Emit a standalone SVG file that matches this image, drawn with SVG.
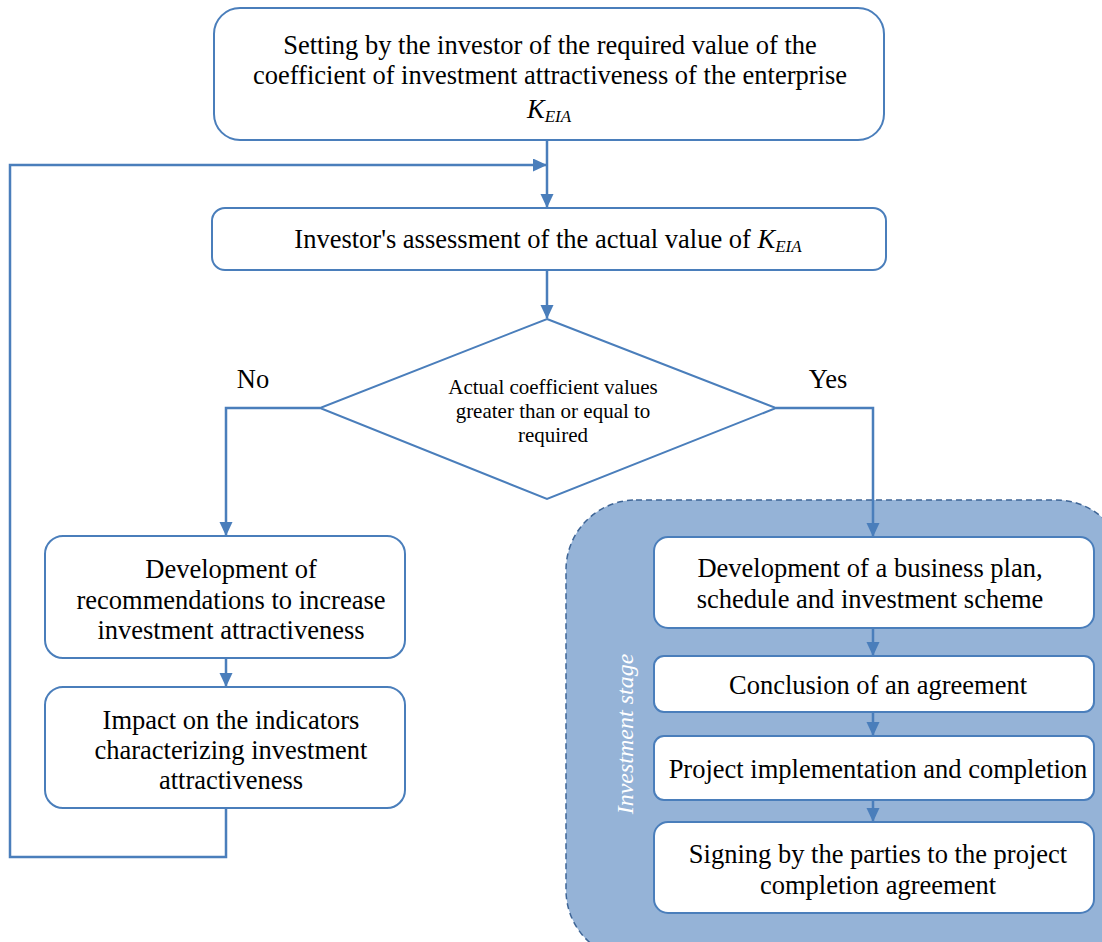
<svg xmlns="http://www.w3.org/2000/svg" width="1102" height="942" viewBox="0 0 1102 942">
<style>
.box{fill:#fff;stroke:#4a7ebb;stroke-width:2}
.con{fill:none;stroke:#4a7ebb;stroke-width:2.5}
</style>
<defs>
<marker id="ah" markerWidth="14" markerHeight="14" refX="13" refY="6.5" orient="auto" markerUnits="userSpaceOnUse">
<path d="M0,0 L14,6.5 L0,13 z" fill="#4a7ebb"/>
</marker>
</defs>
<rect width="1102" height="942" fill="#fff"/>
<g id="stage">
<rect x="566" y="500" width="560" height="460" rx="70" fill="#95b3d7" stroke="#3e6596" stroke-width="1.5" stroke-dasharray="6,4"/>
<text transform="translate(633,734) rotate(-90)" font-family="Liberation Serif" style="font-family:'Liberation Serif','Times New Roman',serif" font-size="24" font-style="italic" fill="#fff" text-anchor="middle">Investment stage</text>
</g>
<g id="connectors">
<path class="con" d="M547,140 V207" marker-end="url(#ah)"/>
<path class="con" d="M226,808 V857 H10 V165 H546" marker-end="url(#ah)"/>
<path class="con" d="M547,270 V318" marker-end="url(#ah)"/>
<path class="con" d="M320,408 H226 V535" marker-end="url(#ah)"/>
<path class="con" d="M776,408 H873 V536" marker-end="url(#ah)"/>
<path class="con" d="M226,658 V686" marker-end="url(#ah)"/>
<path class="con" d="M873,628 V655" marker-end="url(#ah)"/>
<path class="con" d="M873,712 V735" marker-end="url(#ah)"/>
<path class="con" d="M873,800 V821" marker-end="url(#ah)"/>
</g>
<g id="n1"><rect class="box" x="214" y="8" width="670" height="132" rx="26"/>
<text x="550" y="54" font-family="Liberation Serif" style="font-family:'Liberation Serif','Times New Roman',serif" font-size="26.5" text-anchor="middle">Setting by the investor of the required value of the</text>
<text x="550" y="84" font-family="Liberation Serif" style="font-family:'Liberation Serif','Times New Roman',serif" font-size="26.5" text-anchor="middle">coefficient of investment attractiveness of the enterprise</text>
<text x="549" y="118" font-family="Liberation Serif" style="font-family:'Liberation Serif','Times New Roman',serif" font-size="26.5" font-style="italic" text-anchor="middle">K<tspan font-size="17" dy="4">EIA</tspan></text></g>
<g id="n2"><rect class="box" x="212" y="208" width="674" height="62" rx="13"/>
<text x="548" y="248" font-family="Liberation Serif" style="font-family:'Liberation Serif','Times New Roman',serif" font-size="26.5" text-anchor="middle">Investor's assessment of the actual value of <tspan font-style="italic">K</tspan><tspan font-style="italic" font-size="17" dy="4">EIA</tspan></text></g>
<g id="n3"><polygon class="box" points="547,319 776,408 547,499 320,408"/>
<text x="553" y="394" font-family="Liberation Serif" style="font-family:'Liberation Serif','Times New Roman',serif" font-size="21" text-anchor="middle">Actual coefficient values</text>
<text x="553" y="418" font-family="Liberation Serif" style="font-family:'Liberation Serif','Times New Roman',serif" font-size="21" text-anchor="middle">greater than or equal to</text>
<text x="553" y="442" font-family="Liberation Serif" style="font-family:'Liberation Serif','Times New Roman',serif" font-size="21" text-anchor="middle">required</text></g>
<text x="253" y="388" font-family="Liberation Serif" style="font-family:'Liberation Serif','Times New Roman',serif" font-size="26.5" text-anchor="middle">No</text>
<text x="828" y="388" font-family="Liberation Serif" style="font-family:'Liberation Serif','Times New Roman',serif" font-size="26.5" text-anchor="middle">Yes</text>
<g id="n4"><rect class="box" x="45" y="536" width="360" height="122" rx="18"/>
<text x="231" y="578" font-family="Liberation Serif" style="font-family:'Liberation Serif','Times New Roman',serif" font-size="26.5" text-anchor="middle">Development of</text>
<text x="231" y="609" font-family="Liberation Serif" style="font-family:'Liberation Serif','Times New Roman',serif" font-size="26.5" text-anchor="middle">recommendations to increase</text>
<text x="231" y="639" font-family="Liberation Serif" style="font-family:'Liberation Serif','Times New Roman',serif" font-size="26.5" text-anchor="middle">investment attractiveness</text></g>
<g id="n5"><rect class="box" x="45" y="687" width="360" height="121" rx="18"/>
<text x="231" y="729" font-family="Liberation Serif" style="font-family:'Liberation Serif','Times New Roman',serif" font-size="26.5" text-anchor="middle">Impact on the indicators</text>
<text x="231" y="759" font-family="Liberation Serif" style="font-family:'Liberation Serif','Times New Roman',serif" font-size="26.5" text-anchor="middle">characterizing investment</text>
<text x="231" y="789" font-family="Liberation Serif" style="font-family:'Liberation Serif','Times New Roman',serif" font-size="26.5" text-anchor="middle">attractiveness</text></g>
<g id="n6"><rect class="box" x="654" y="537" width="440" height="91" rx="14"/>
<text x="870" y="577" font-family="Liberation Serif" style="font-family:'Liberation Serif','Times New Roman',serif" font-size="26.5" text-anchor="middle">Development of a business plan,</text>
<text x="870" y="608" font-family="Liberation Serif" style="font-family:'Liberation Serif','Times New Roman',serif" font-size="26.5" text-anchor="middle">schedule and investment scheme</text></g>
<g id="n7"><rect class="box" x="654" y="656" width="440" height="56" rx="10"/>
<text x="878" y="694" font-family="Liberation Serif" style="font-family:'Liberation Serif','Times New Roman',serif" font-size="26.5" text-anchor="middle">Conclusion of an agreement</text></g>
<g id="n8"><rect class="box" x="654" y="736" width="440" height="64" rx="10"/>
<text x="878" y="778" font-family="Liberation Serif" style="font-family:'Liberation Serif','Times New Roman',serif" font-size="26.5" text-anchor="middle">Project implementation and completion</text></g>
<g id="n9"><rect class="box" x="654" y="822" width="440" height="91" rx="14"/>
<text x="878" y="863" font-family="Liberation Serif" style="font-family:'Liberation Serif','Times New Roman',serif" font-size="26.5" text-anchor="middle">Signing by the parties to the project</text>
<text x="878" y="894" font-family="Liberation Serif" style="font-family:'Liberation Serif','Times New Roman',serif" font-size="26.5" text-anchor="middle">completion agreement</text></g>
</svg>
